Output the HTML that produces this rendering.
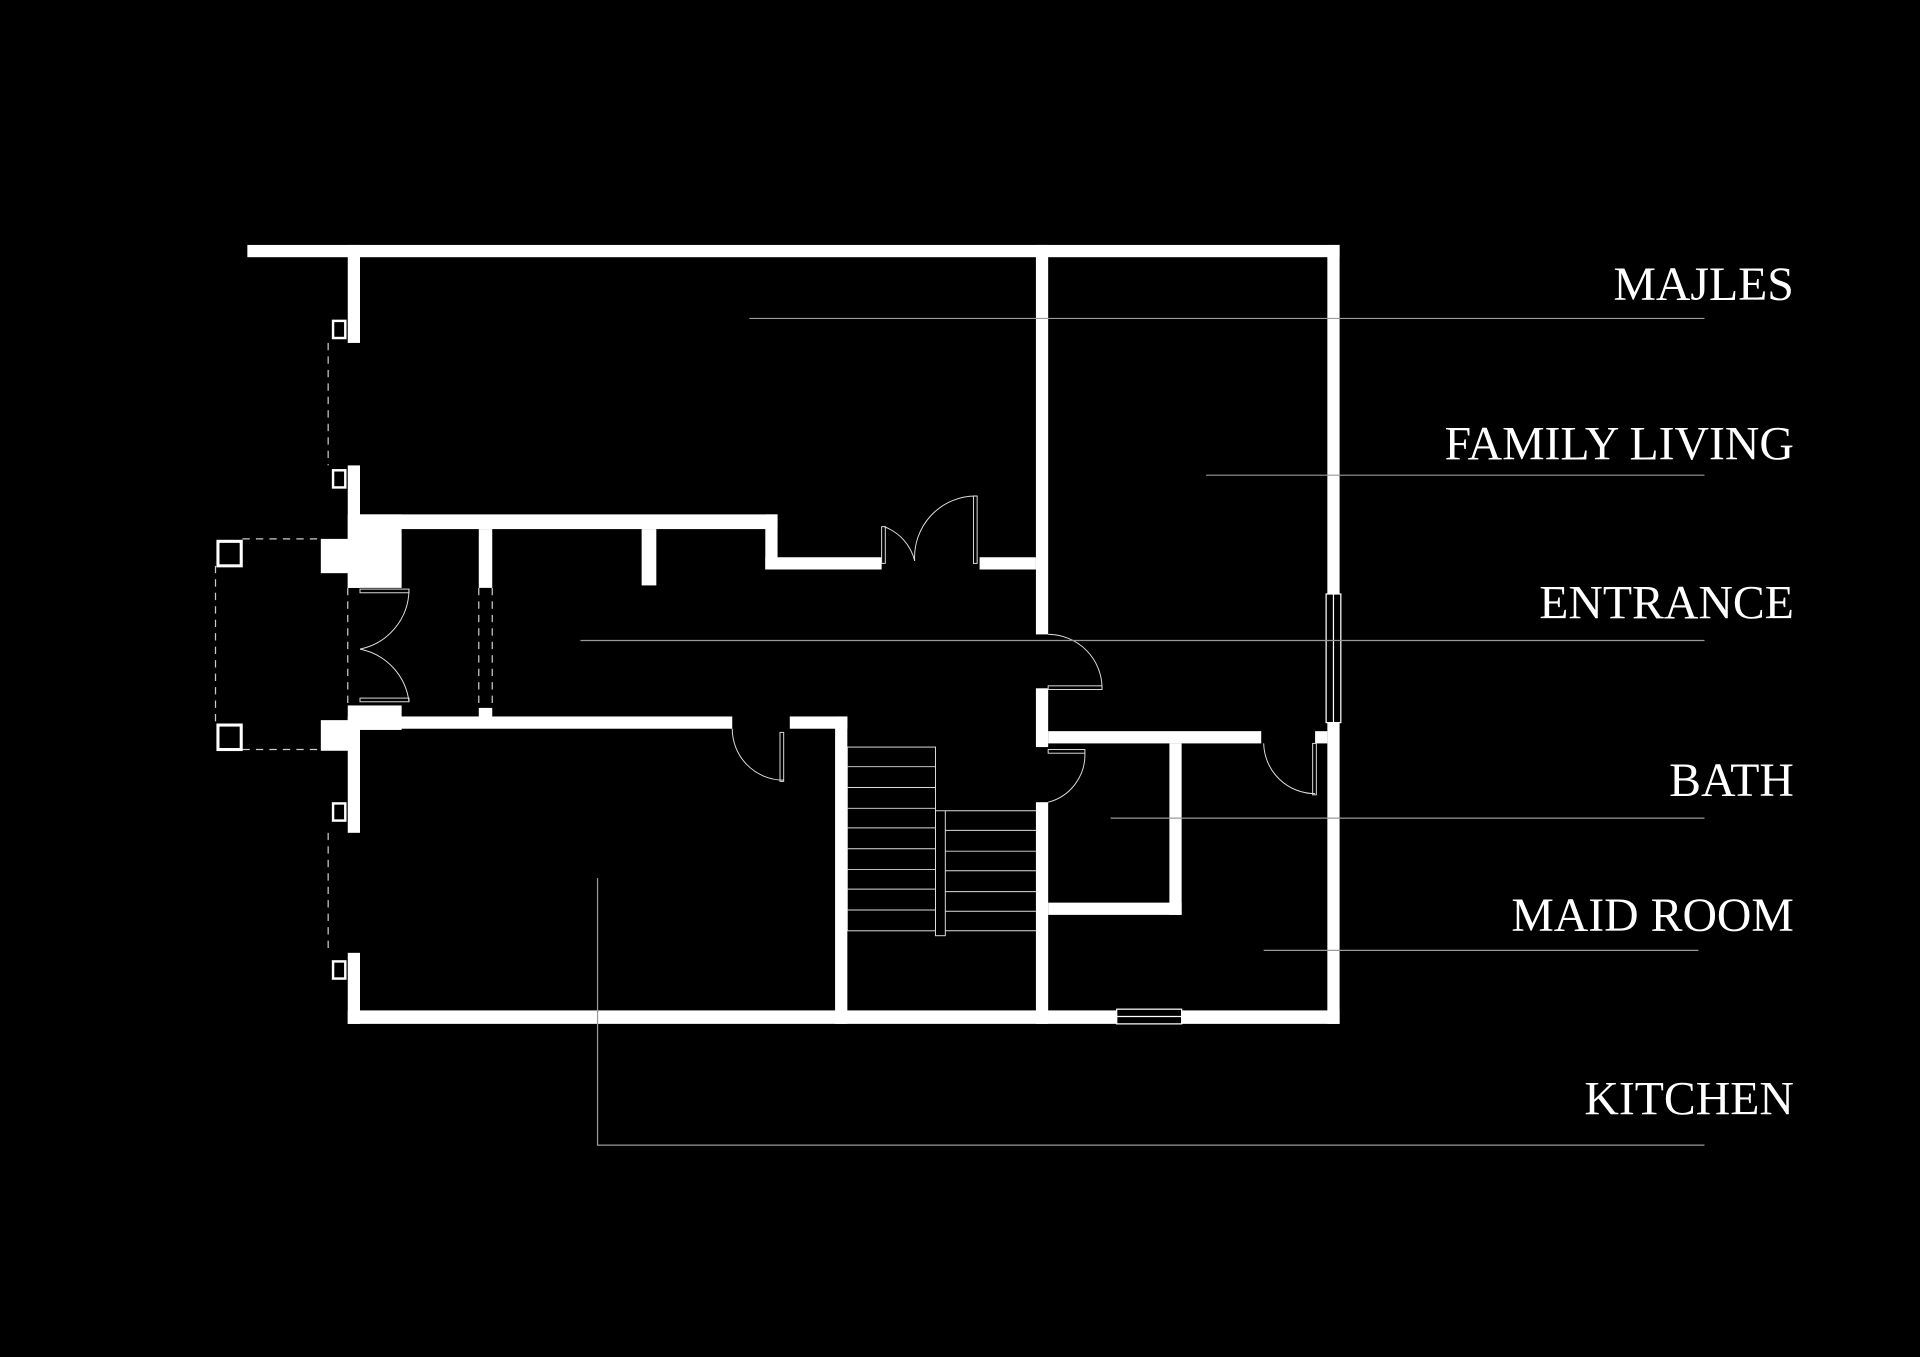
<!DOCTYPE html>
<html><head><meta charset="utf-8"><style>
html,body{margin:0;padding:0;background:#000;overflow:hidden}
svg{display:block}
text{font-family:"Liberation Serif",serif;fill:#fff;font-size:39px}
</style></head><body>
<svg width="1920" height="1357" viewBox="0 0 1568 1108" preserveAspectRatio="none" xmlns="http://www.w3.org/2000/svg">
<rect width="1568" height="1108" fill="#000"/>
<g fill="#fff">
<!-- outer -->
<rect x="202" y="200" width="892" height="10"/>
<rect x="1084" y="200" width="10" height="636"/>
<rect x="284" y="825" width="810" height="11"/>
<rect x="284" y="200" width="10" height="80"/>
<rect x="284" y="380" width="10" height="100"/>
<rect x="284" y="585" width="10" height="95"/>
<rect x="284" y="778" width="10" height="58"/>
<!-- entrance blocks -->
<rect x="262" y="440" width="32" height="28"/>
<rect x="284" y="420" width="44" height="60"/>
<rect x="262" y="588" width="32" height="25"/>
<rect x="284" y="576" width="44" height="20"/>
<!-- vertical middle -->
<rect x="846" y="200" width="10" height="318"/>
<rect x="846" y="562" width="10" height="48"/>
<rect x="846" y="655" width="10" height="181"/>
<!-- corridor top -->
<rect x="294" y="420" width="341" height="12"/>
<rect x="625" y="420" width="10" height="45"/>
<rect x="625" y="455" width="95" height="10"/>
<rect x="800" y="455" width="46" height="10"/>
<rect x="391" y="432" width="11" height="48"/>
<rect x="524" y="432" width="12" height="46"/>
<rect x="391" y="578" width="11" height="10"/>
<!-- corridor bottom -->
<rect x="294" y="585" width="304" height="10"/>
<rect x="645" y="585" width="47" height="10"/>
<rect x="682" y="585" width="10" height="251"/>
<!-- bath -->
<rect x="856" y="597" width="174" height="10"/>
<rect x="1074" y="597" width="10" height="10"/>
<rect x="955" y="607" width="10" height="140"/>
<rect x="856" y="737" width="109" height="10"/>
</g>
<g fill="none" stroke="#fff" stroke-width="1">
<!-- windows -->
<rect x="1083" y="485" width="12" height="105" fill="#000"/>
<line x1="1089" y1="485" x2="1089" y2="590"/>
<rect x="912" y="824" width="53" height="12" fill="#000"/>
<line x1="912" y1="830" x2="965" y2="830"/>
<!-- columns -->
<rect x="178" y="442" width="19" height="20" stroke-width="2.5"/>
<rect x="178" y="592" width="19" height="20" stroke-width="2.5"/>
<rect x="272" y="262" width="10" height="14" stroke-width="2"/>
<rect x="272" y="384" width="10" height="14" stroke-width="2"/>
<rect x="272" y="656" width="10" height="14" stroke-width="2"/>
<rect x="272" y="785" width="10" height="14" stroke-width="2"/>
</g>
<g fill="none" stroke="#ccc" stroke-width="1" stroke-dasharray="6,5">
<line x1="268" y1="280" x2="268" y2="380"/>
<line x1="268" y1="680" x2="268" y2="778"/>
<line x1="198" y1="440" x2="262" y2="440"/>
<line x1="198" y1="612" x2="262" y2="612"/>
<line x1="176" y1="462" x2="176" y2="592"/>
<line x1="284" y1="480" x2="284" y2="576"/>
<line x1="391" y1="480" x2="391" y2="578"/>
<line x1="402" y1="480" x2="402" y2="578"/>
</g>
<g fill="none" stroke="#ddd" stroke-width="0.8">
<!-- entrance double door -->
<rect x="294" y="481" width="40" height="3"/>
<path d="M334 481 A50 50 0 0 1 294 530"/>
<rect x="294" y="570" width="40" height="3"/>
<path d="M334 573 A50 50 0 0 0 294 530"/>
<!-- majles double door -->
<rect x="720" y="430" width="3" height="30"/>
<path d="M722 430 A40 40 0 0 1 747 458"/>
<rect x="795" y="405" width="3" height="55"/>
<path d="M797 405 A50 50 0 0 0 747 458"/>
<!-- family living door -->
<path d="M856 518 A44 44 0 0 1 900 562"/>
<rect x="856" y="560" width="44" height="3"/>
<!-- kitchen door -->
<path d="M598 595 A42 42 0 0 0 640 637"/>
<rect x="637" y="598" width="3" height="40"/>
<!-- bath door -->
<rect x="856" y="612" width="30" height="3"/>
<path d="M886 615 A40 40 0 0 1 856 655"/>
<!-- maid door -->
<path d="M1032 607 A42 42 0 0 0 1074 648"/>
<rect x="1072" y="607" width="3" height="42"/>
<!-- stairs -->
<rect x="692" y="610" width="72" height="150"/>
<rect x="764" y="662" width="8" height="102"/>
</g>
<g stroke="#ddd" stroke-width="0.8">
<line x1="692" y1="626" x2="764" y2="626"/><line x1="692" y1="643" x2="764" y2="643"/>
<line x1="692" y1="660" x2="764" y2="660"/><line x1="692" y1="676" x2="764" y2="676"/>
<line x1="692" y1="693" x2="764" y2="693"/><line x1="692" y1="710" x2="764" y2="710"/>
<line x1="692" y1="726" x2="764" y2="726"/><line x1="692" y1="743" x2="764" y2="743"/>
<line x1="772" y1="662" x2="846" y2="662"/><line x1="772" y1="678" x2="846" y2="678"/>
<line x1="772" y1="695" x2="846" y2="695"/><line x1="772" y1="711" x2="846" y2="711"/>
<line x1="772" y1="728" x2="846" y2="728"/><line x1="772" y1="744" x2="846" y2="744"/>
<line x1="772" y1="760" x2="846" y2="760"/>
</g>
<!-- leader lines -->
<g stroke="#999" stroke-width="1" fill="none">
<line x1="612" y1="260" x2="1392" y2="260"/>
<line x1="985" y1="388" x2="1392" y2="388"/>
<line x1="474" y1="523" x2="1392" y2="523"/>
<line x1="907" y1="668" x2="1392" y2="668"/>
<line x1="1032" y1="776" x2="1387" y2="776"/>
<polyline points="488,717 488,935 1392,935"/>
</g>
<g text-anchor="end">
<text x="1465" y="245">MAJLES</text>
<text x="1465" y="375">FAMILY LIVING</text>
<text x="1465" y="505">ENTRANCE</text>
<text x="1465" y="650">BATH</text>
<text x="1465" y="760">MAID ROOM</text>
<text x="1465" y="910">KITCHEN</text>
</g>
</svg>
</body></html>
